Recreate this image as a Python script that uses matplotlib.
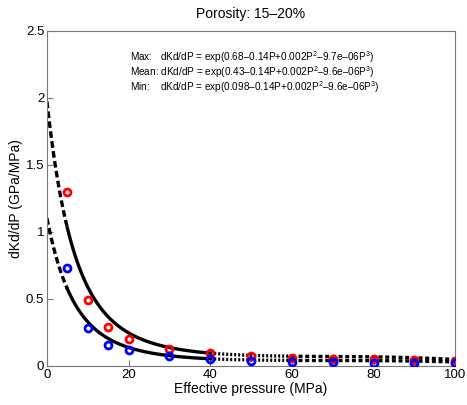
import numpy as np
import matplotlib
matplotlib.use("Agg")
import matplotlib.pyplot as plt

plt.rcParams['font.family'] = ['Liberation Sans', 'DejaVu Sans']
plt.rcParams['mathtext.fontset'] = 'custom'
plt.rcParams['mathtext.rm'] = 'Liberation Sans'
plt.rcParams['mathtext.it'] = 'Liberation Sans'

# --- DATA ---
pressure = [5, 10, 15, 20, 30, 40, 50, 60, 70, 80, 90, 100]
kd_max = [1.30, 0.49, 0.29, 0.20, 0.13, 0.097, 0.075, 0.062, 0.055, 0.05, 0.042, 0.037]
kd_min = [0.73, 0.28, 0.16, 0.12, 0.075, 0.05, 0.04, 0.03, 0.027, 0.02, 0.02, 0.02]

# fit coefficients shown in the annotation: c0 + c1 P + c2 P^2 + c3 P^3
coef_max = [0.68, -0.14, 0.002, -9.7e-06]
coef_mean = [0.43, -0.14, 0.002, -9.6e-06]
coef_min = [0.098, -0.14, 0.002, -9.6e-06]

# ranges for line styles (extrapolated / fitted / extrapolated)
seg_ranges = [(0, 5, (0, (2, 1))), (5, 40, '-'), (40, 60, (0, (0.6, 0.6))), (60, 100, (0, (1.2, 0.8)))]

x_ticks = [0, 20, 40, 60, 80, 100]
y_ticks = [0, 0.5, 1, 1.5, 2, 2.5]
y_labels = ['0', '0.5', '1', '1.5', '2', '2.5']


def fit(coef, p):
    return np.exp(coef[0] + coef[1] * p + coef[2] * p ** 2 + coef[3] * p ** 3)


fig = plt.figure(figsize=(4.67, 4.05), dpi=100)
ax = fig.add_axes([0.1006, 0.0963, 0.874, 0.8272])

for coef in (coef_max, coef_min):
    for lo, hi, ls in seg_ranges:
        p = np.linspace(lo, hi, 100)
        ax.plot(p, fit(coef, p), color='black', lw=2.4, linestyle=ls, zorder=2)

ax.plot(pressure, kd_max, 'o', mfc='none', mec='red', mew=2, ms=5, zorder=3)
ax.plot(pressure, kd_min, 'o', mfc='none', mec='blue', mew=2, ms=5, zorder=3)

ax.set_xlim(0, 100)
ax.set_ylim(0, 2.5)
ax.set_xticks(x_ticks)
ax.set_yticks(y_ticks)
ax.set_yticklabels(y_labels)
ax.tick_params(direction='in', length=4, labelsize=9.5, colors='#777777', labelcolor='black', pad=2)
for sp in ax.spines.values():
    sp.set_color('#777777')
    sp.set_linewidth(0.8)

ax.set_xlabel('Effective pressure (MPa)', fontsize=10, labelpad=1)
ax.set_ylabel('dKd/dP (GPa/MPa)', fontsize=10, labelpad=2)
ax.set_title('Porosity: 15\u201320%', fontsize=10, pad=9)


def eq(coef):
    return ('dKd/dP = exp(%s\u2013%sP+%sP$^2$\u2013%sP$^3$)'
            % (('%g' % coef[0]), ('%g' % -coef[1]), ('%g' % coef[2]),
               ('%.1e' % -coef[3]).replace('-', '\u2013')))


rows = [('Max:   ', coef_max, 0.922), ('Mean: ', coef_mean, 0.878), ('Min:    ', coef_min, 0.833)]
for name, coef, yy in rows:
    ax.text(0.203, yy, name + eq(coef), transform=ax.transAxes, fontsize=7.2, va='center')

fig.savefig('out.png', dpi=100)
